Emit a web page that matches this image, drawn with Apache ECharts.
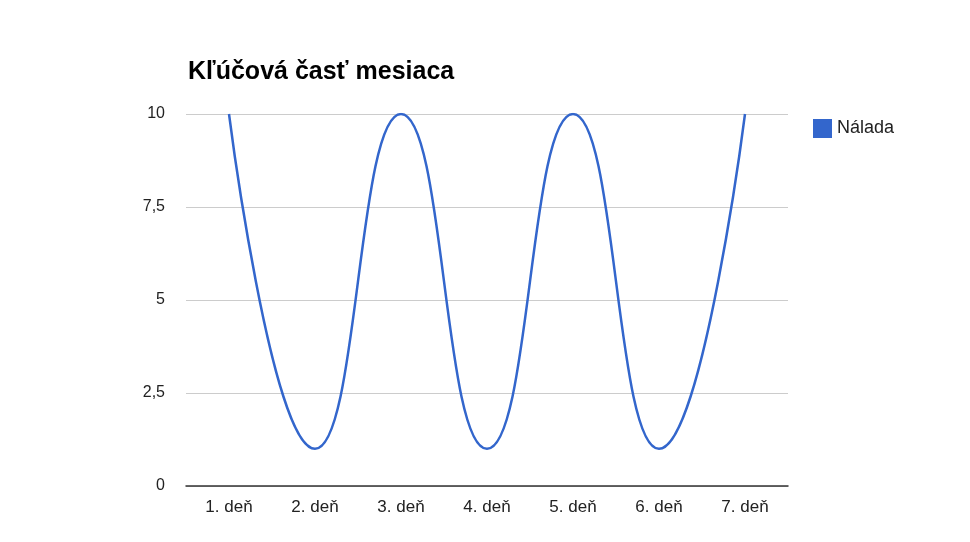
<!DOCTYPE html>
<html><head><meta charset="utf-8">
<script src="https://cdn.jsdelivr.net/npm/echarts@6/dist/echarts.min.js"></script>
<style>html,body{margin:0;padding:0;background:#fff}#c{width:970px;height:542px}</style>
</head><body><div id="c"></div>
<script>
const categories = ['1. deň','2. deň','3. deň','4. deň','5. deň','6. deň','7. deň'];
const values = [10,1,10,1,10,1,10];
const seriesName = 'Nálada';
const chart = echarts.init(document.getElementById('c'));
chart.setOption({
  animation:false,
  title:{text:'Kľúčová časť mesiaca',left:183,top:55,textStyle:{fontFamily:'Arial, Liberation Sans',fontSize:25,fontWeight:'bold',color:'#000'}},
  legend:{data:[seriesName],left:808,top:114,orient:'vertical',icon:'rect',itemWidth:19,itemHeight:19,itemGap:6,
    textStyle:{fontFamily:'Arial, Liberation Sans',fontSize:18,color:'#222'}},
  grid:{left:186,right:182,top:114,bottom:56},
  xAxis:{type:'category',data:categories,boundaryGap:true,
    axisLine:{lineStyle:{color:'#333',width:1.5}},axisTick:{show:false},
    axisLabel:{fontFamily:'Arial, Liberation Sans',fontSize:17,color:'#222',margin:13}},
  yAxis:{type:'value',min:0,max:10,interval:2.5,
    axisLine:{show:false},axisTick:{show:false},
    splitLine:{lineStyle:{color:'#ccc'}},
    axisLabel:{fontFamily:'Arial, Liberation Sans',fontSize:16,color:'#222',margin:21,
      formatter:v=>String(v).replace('.',',')}},
  series:[{name:seriesName,type:'line',data:values,smooth:0.5,symbol:'none',
    itemStyle:{color:'#3366cc'},lineStyle:{color:'#3366cc',width:2.5}}]
});
</script></body></html>
